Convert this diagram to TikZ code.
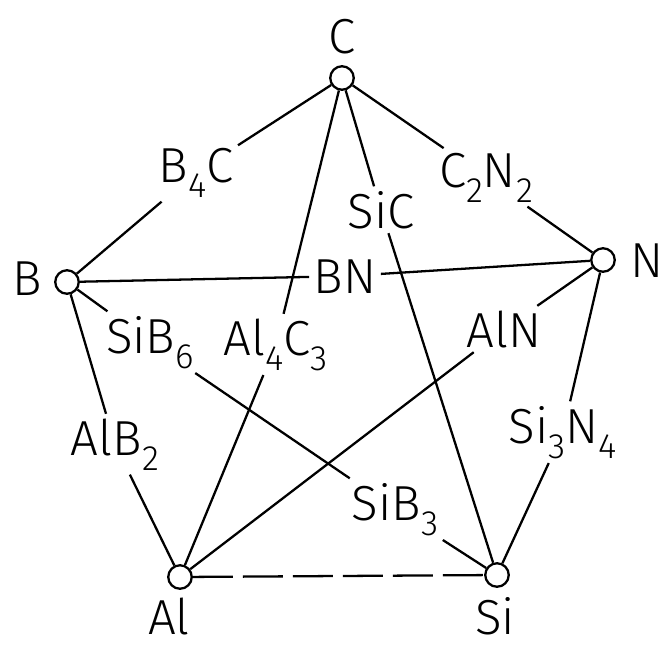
\documentclass[tikz,border=0pt]{standalone}
\usepackage{fontspec}
\setmainfont{Fira Sans Light}
\newcommand\lowr[1]{\raisebox{-0.3cm}{\fontsize{20}{22}\selectfont #1}}

\begin{document}
\begin{tikzpicture}[x=0.02cm,y=-0.02cm,line width=1.3pt,
  elem/.style={draw, circle, minimum size=0.47cm, inner sep=0pt, fill=white},
  phase/.style={inner sep=2pt, anchor=base, font=\fontsize{28}{30}\selectfont},
  elemname/.style={phase, inner sep=0pt}]
\useasboundingbox (0,0) rectangle (662,646);
% elements
\node[elem] (C) at (342,78) {};
\node[elem] (B) at (67,282) {};
\node[elem] (N) at (603,260) {};
\node[elem] (Al) at (180,577) {};
\node[elem] (Si) at (497,575) {};
\node[elemname] (Ct) at (342,53) {C};
\node[elemname] (Bt) at (27,295) {B};
\node[elemname] (Nt) at (647,277) {N};
\node[elemname] (Alt) at (169,634) {Al};
\node[elemname] (Sit) at (495,634) {Si};
% compounds
\node[phase] (b4c) at (196,182) {B\lowr{4}C};
\node[phase] (sic) at (381,228) {SiC};
\node[phase] (c2n2) at (486,187) {C\lowr{2}N\lowr{2}};
\node[phase] (bn) at (345,293) {BN};
\node[phase] (sib6) at (150,353) {SiB\lowr{6}};
\node[phase] (al4c3) at (276,355) {Al\lowr{4}C\lowr{3}};
\node[phase] (aln) at (504,347) {AlN};
\node[phase] (alb2) at (115,455) {AlB\lowr{2}};
\node[phase] (si3n4) at (563,443) {Si\lowr{3}N\lowr{4}};
\node[phase] (sib3) at (395,520) {SiB\lowr{3}};
% lines
\draw (C) -- (b4c) -- (B);
\draw (C) -- (al4c3) -- (Al);
\draw (C) -- (sic) -- (Si);
\draw (C) -- (c2n2) -- (N);
\draw (B) -- (bn) -- (N);
\draw (B) -- (sib6) -- (sib3) -- (Si);
\draw (B) -- (alb2) -- (Al);
\draw (N) -- (aln) -- (Al);
\draw (N) -- (si3n4) -- (Si);
\draw[dash pattern=on 0.8cm off 0.2cm] (Al) -- (Si);
\end{tikzpicture}
\end{document}
